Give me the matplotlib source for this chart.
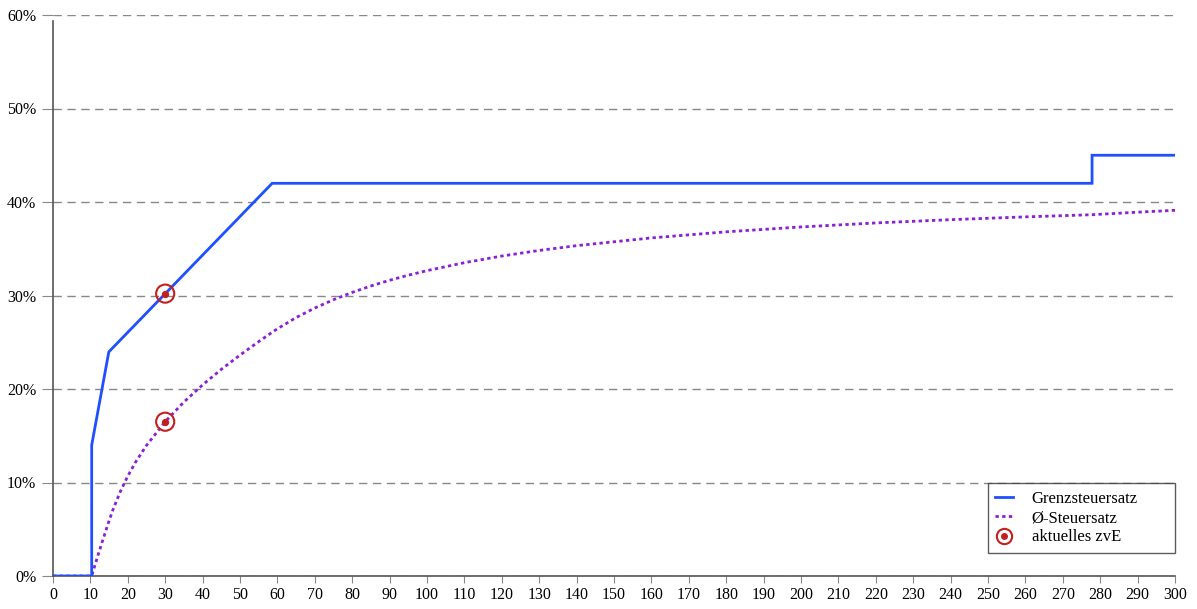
import numpy as np
import matplotlib.pyplot as plt
from matplotlib.lines import Line2D

plt.rcParams["font.family"] = ["Liberation Serif", "DejaVu Serif"]

# zvE in Tsd. Euro, Grenzsteuersatz (marginal) in %
marg_x = [0, 10.347, 10.347, 14.926, 58.596, 277.826, 277.826, 300]
marg_y = [0, 0, 14.0, 23.97, 42.0, 42.0, 45.0, 45.0]

# Durchschnittssteuersatz in %
avg_x = [0, 10.347, 11, 12, 13, 14, 14.926, 16, 18, 20, 22, 25, 30, 35, 40,
         45, 50, 55, 58.596, 60, 65, 70, 75, 80, 85, 90, 95, 100, 110, 120,
         130, 140, 160, 180, 200, 220, 240, 260, 277.826, 290, 300]
avg_y = [0, 0, 0.87, 2.18, 3.45, 4.69, 5.82, 7.06, 9.03, 10.69, 12.13, 13.97,
         16.51, 18.61, 20.44, 22.10, 23.63, 25.07, 26.07, 26.44, 27.64, 28.66,
         29.55, 30.33, 31.02, 31.63, 32.17, 32.66, 33.51, 34.22, 34.82, 35.33,
         36.16, 36.81, 37.33, 37.76, 38.11, 38.41, 38.64, 38.91, 39.11]

# aktuelles zvE
cur_x = [30, 30]
cur_y = [30.2, 16.5]

x_ticks = list(range(0, 301, 10))
y_ticks = [0, 10, 20, 30, 40, 50, 60]

fig = plt.figure(figsize=(11.97, 6.09), dpi=100)
ax = fig.add_axes([53 / 1197, 33 / 609, 1122 / 1197, 561 / 609])

ax.plot(marg_x, marg_y, color="#1f4fff", linewidth=2.0, zorder=5, solid_joinstyle="miter")
ax.plot(avg_x, avg_y, color="#8a1fd8", linewidth=2.0, linestyle=(0, (1.2, 1.2)), zorder=4)
ax.scatter(cur_x, cur_y, s=170, facecolor="none", edgecolor="#c41f1f", linewidth=1.5, zorder=6)
ax.scatter(cur_x, cur_y, s=18, color="#c41f1f", zorder=7)

ax.set_xlim(0, 300)
ax.set_ylim(0, 60)
ax.set_xticks(x_ticks)
ax.set_yticks(y_ticks)
ax.set_yticklabels([f"{v}%" for v in y_ticks])
ax.grid(axis="y", color="#888888", linestyle=(0, (6, 4)), linewidth=1.0)
ax.set_axisbelow(True)
for s in ["top", "right"]:
    ax.spines[s].set_visible(False)
for s in ["left", "bottom"]:
    ax.spines[s].set_color("#555555")
    ax.spines[s].set_linewidth(1.2)
ax.spines["left"].set_bounds(0, 59.4)
ax.tick_params(axis="x", length=5, color="#888888", labelsize=11.5, pad=3)
ax.tick_params(axis="y", length=8, color="#888888", labelsize=11.5, pad=4)

handles = [
    Line2D([], [], color="#1f4fff", linewidth=2.0),
    Line2D([], [], color="#8a1fd8", linewidth=2.0, linestyle=(0, (1.2, 1.2))),
    Line2D([], [], linestyle="none", marker="o", markersize=11, markerfacecolor="white",
           markeredgecolor="#c41f1f", markeredgewidth=1.5),
]
dot = Line2D([], [], linestyle="none", marker="o", markersize=4, color="#c41f1f")
leg = ax.legend([handles[0], handles[1], (handles[2], dot)],
                ["Grenzsteuersatz", "Ø-Steuersatz", "aktuelles zvE"],
                loc="lower left", bbox_to_anchor=(0.833, 0.041, 0.1667, 0.11),
                mode="expand", borderaxespad=0, fontsize=12,
                frameon=True, fancybox=False, edgecolor="#333333",
                handlelength=1.1, handletextpad=1.1, borderpad=0.45,
                labelspacing=0.2)
leg.get_frame().set_linewidth(1.0)

fig.savefig("out.png", dpi=100)
